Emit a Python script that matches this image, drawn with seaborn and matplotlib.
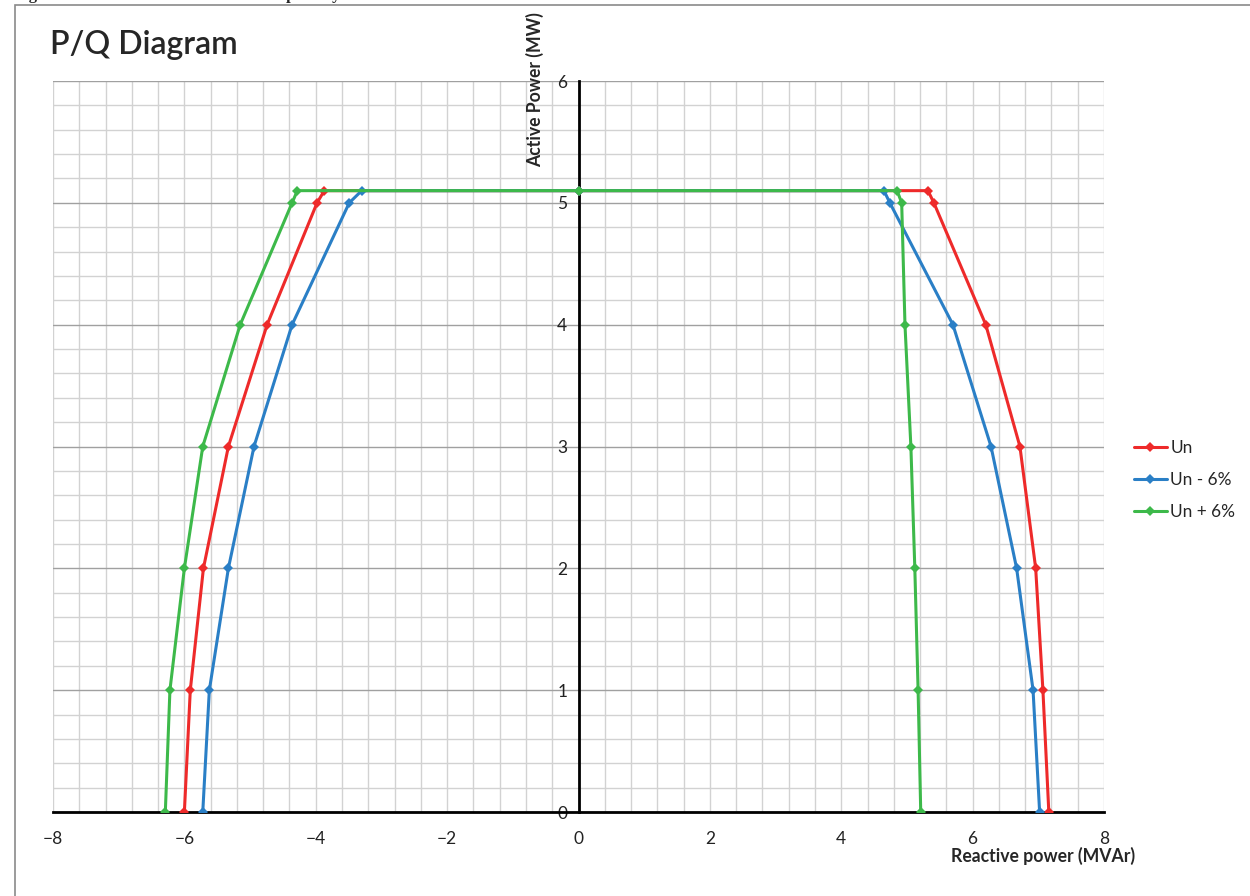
import numpy as np
import pandas as pd
import matplotlib
matplotlib.use("Agg")
import matplotlib.pyplot as plt
from matplotlib.patches import Rectangle
from matplotlib.ticker import MultipleLocator
import seaborn as sns

# P/Q capability points (Q in MVAr, P in MW)
q_un = [-6.00, -5.91, -5.71, -5.33, -4.74, -3.98, -3.87, 0.0, 5.32, 5.41, 6.20, 6.72, 6.96, 7.07, 7.16]
p_un = [0, 1, 2, 3, 4, 5, 5.1, 5.1, 5.1, 5, 4, 3, 2, 1, 0]

q_minus = [-5.72, -5.62, -5.33, -4.94, -4.36, -3.49, -3.30, 0.0, 4.65, 4.74, 5.70, 6.28, 6.67, 6.92, 7.02]
p_minus = [0, 1, 2, 3, 4, 5, 5.1, 5.1, 5.1, 5, 4, 3, 2, 1, 0]

q_plus = [-6.29, -6.22, -6.00, -5.72, -5.15, -4.36, -4.28, 0.0, 4.85, 4.92, 4.97, 5.06, 5.12, 5.17, 5.21]
p_plus = [0, 1, 2, 3, 4, 5, 5.1, 5.1, 5.1, 5, 4, 3, 2, 1, 0]

series = ["Un", "Un - 6%", "Un + 6%"]
colors = {"Un": "#ee2a2a", "Un - 6%": "#2a7fc6", "Un + 6%": "#3db94a"}

df = pd.concat([
    pd.DataFrame({"Q": q_un, "P": p_un, "serie": "Un"}),
    pd.DataFrame({"Q": q_minus, "P": p_minus, "serie": "Un - 6%"}),
    pd.DataFrame({"Q": q_plus, "P": p_plus, "serie": "Un + 6%"}),
])

sns.set_style("white")
plt.rcParams["font.family"] = ["Lato", "DejaVu Sans"]

fig = plt.figure(figsize=(12.5, 8.96), dpi=100)
ax = fig.add_axes([53 / 1250, 1 - 812 / 896, (1104 - 53) / 1250, (812 - 81) / 896])

for name in series:
    d = df[df["serie"] == name]
    sns.lineplot(data=d, x="Q", y="P", sort=False, estimator=None, ax=ax,
                 color=colors[name], label=name, linewidth=2.2,
                 marker="D", markersize=5.5, markeredgewidth=0, zorder=3)

ax.set_xlim(-8, 8)
ax.set_ylim(0, 6)
ax.xaxis.set_major_locator(MultipleLocator(2))
ax.xaxis.set_minor_locator(MultipleLocator(0.4))
ax.yaxis.set_major_locator(MultipleLocator(1))
ax.yaxis.set_minor_locator(MultipleLocator(0.2))

ax.grid(which="minor", color="#d2d2d2", linewidth=1)
ax.grid(which="major", axis="x", color="#d2d2d2", linewidth=1)
ax.grid(which="major", axis="y", color="#a0a0a0", linewidth=1)
ax.set_axisbelow(True)

ax.spines["left"].set_position(("data", 0))
ax.spines["bottom"].set_position(("data", 0))
ax.spines["top"].set_visible(False)
ax.spines["right"].set_visible(False)
for s in ("left", "bottom"):
    ax.spines[s].set_linewidth(2)
    ax.spines[s].set_color("black")
    ax.spines[s].set_zorder(2)

ax.tick_params(axis="both", which="minor", length=0)
ax.tick_params(axis="x", which="major", direction="out", length=5, width=2,
               labelsize=12.5, colors="black", pad=9)
ax.tick_params(axis="y", which="major", direction="out", length=4, width=2,
               labelsize=12.5, colors="black", pad=4)
for lab in ax.get_yticklabels() + ax.get_xticklabels():
    lab.set_color("#222222")

ax.set_xlabel("")
ax.set_ylabel("")
fig.text(1043 / 1250, 1 - 856 / 896, "Reactive power (MVAr)", ha="center", va="center",
         fontsize=12.7, fontweight="bold")
fig.text(535 / 1250, 1 - 90 / 896, "Active Power (MW)", ha="center", va="center",
         rotation=90, fontsize=12.7, fontweight="bold")

fig.text(50 / 1250, 1 - 45 / 896, "P/Q Diagram", ha="left", va="center", fontsize=23,
         fontweight="semibold")

leg = ax.legend(loc="center left", bbox_to_anchor=(1134 / 1250, 1 - 480 / 896),
                bbox_transform=fig.transFigure, frameon=False, fontsize=12.4,
                borderpad=0, borderaxespad=0,
                handlelength=1.9, handletextpad=0.2, labelspacing=0.95)

# outer frame and clipped caption at the top
fig.patches.append(Rectangle((15 / 1250, -0.02), 1.0, 1 - 5 / 896 + 0.02,
                             transform=fig.transFigure, fill=False,
                             edgecolor="#8a8a8a", linewidth=1.2))
fig.text(14 / 1250, 1.001, "Figure 7: Generator Reactive Load Capability", ha="left",
         va="baseline", fontsize=12, fontweight="bold", family=["Liberation Serif"])

fig.savefig("out.png", dpi=100)
